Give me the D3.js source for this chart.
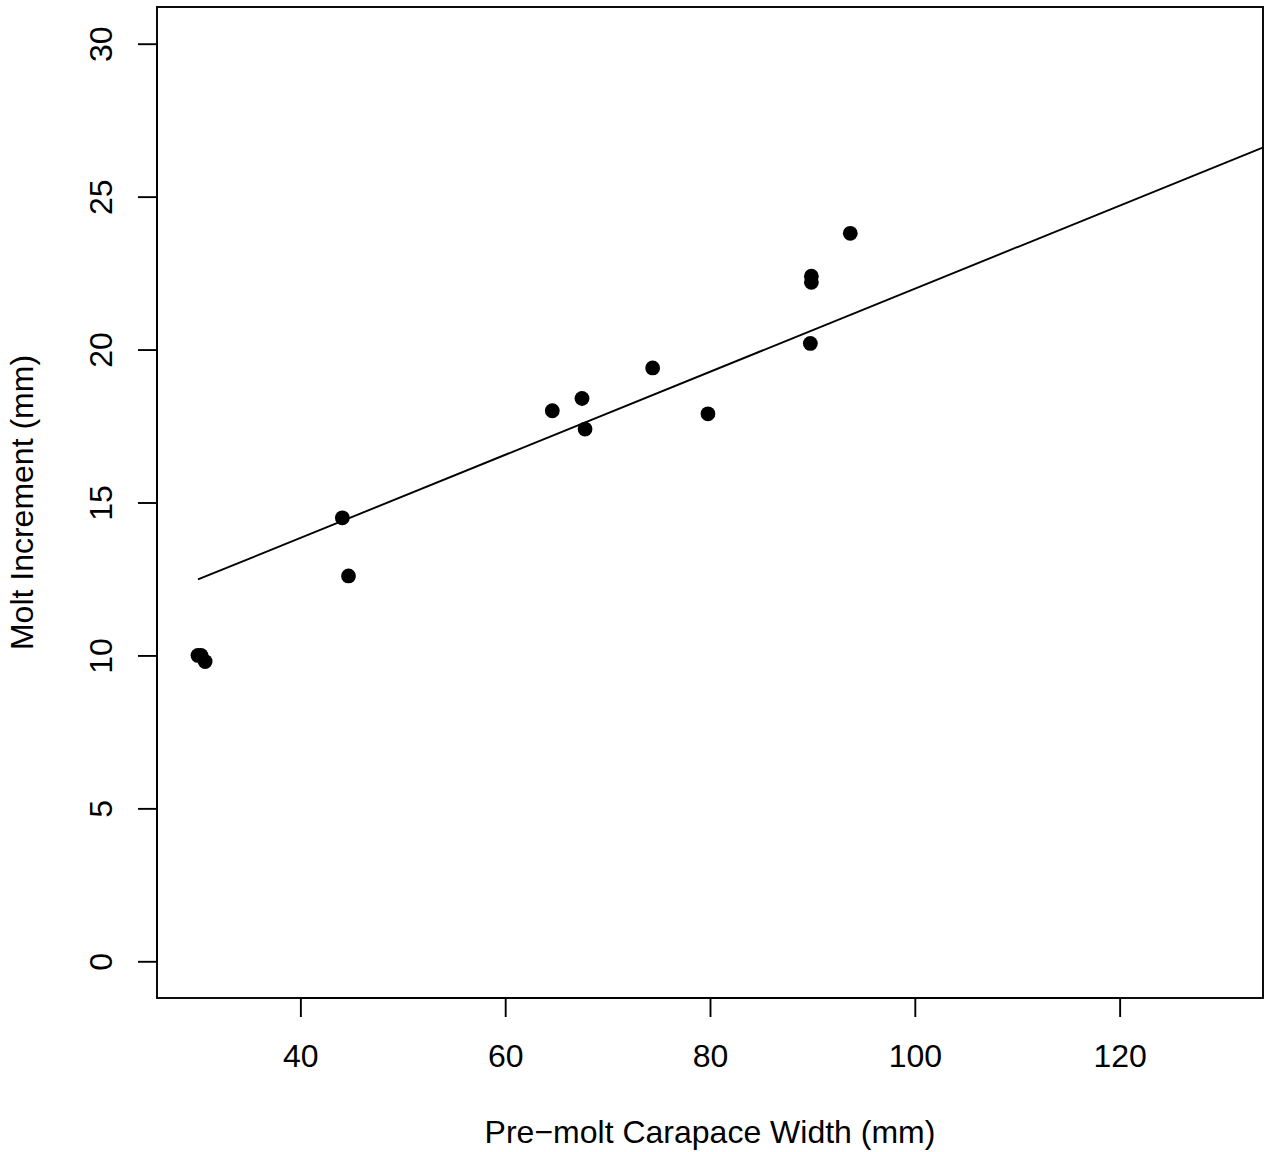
<!DOCTYPE html>
<html>
<head>
<meta charset="utf-8">
<script src="https://cdn.jsdelivr.net/npm/d3@7"></script>
<style>
  html, body { margin: 0; padding: 0; background: #fff; }
  svg { display: block; }
  text { font-family: "Liberation Sans", Arial, Helvetica, sans-serif; fill: #000; }
</style>
</head>
<body>
<script>
// ---- data ----
const premoltWidth = [30.0, 30.3, 30.7, 44.1, 44.7, 64.6, 67.5, 67.8, 74.4, 79.8, 89.9, 89.9, 89.8, 93.7];
const moltIncrement = [10.0, 10.0, 9.8, 14.5, 12.6, 18.0, 18.4, 17.4, 19.4, 17.9, 22.4, 22.2, 20.2, 23.8];
const fitIntercept = 8.41;
const fitSlope = 0.1358;
const fitFromX = [30, 140];
const xTicks = [40, 60, 80, 100, 120];
const yTicks = [0, 5, 10, 15, 20, 25, 30];
const xLimits = [30, 130];
const yLimits = [0, 30];
const xTitle = "Pre\u2212molt Carapace Width (mm)";
const yTitle = "Molt Increment (mm)";

// ---- layout ----
const W = 1272, H = 1152;
const plot = { left: 157, right: 1263, top: 7, bottom: 998 };
const fontSize = 32;
const tickLen = 19;
const lw = 1.9;

const svg = d3.select("body").append("svg").attr("width", W).attr("height", H);

// R-style 4% range extension
const xr = xLimits[1] - xLimits[0], yr = yLimits[1] - yLimits[0];
const x = d3.scaleLinear().domain([xLimits[0] - 0.04 * xr, xLimits[1] + 0.04 * xr]).range([plot.left, plot.right]);
const y = d3.scaleLinear().domain([yLimits[0] - 0.04 * yr, yLimits[1] + 0.04 * yr]).range([plot.bottom, plot.top]);

svg.append("defs").append("clipPath").attr("id", "clip")
  .append("rect").attr("x", plot.left).attr("y", plot.top)
  .attr("width", plot.right - plot.left).attr("height", plot.bottom - plot.top);

// fitted line
const lineData = fitFromX.map(v => [v, fitIntercept + fitSlope * v]);
svg.append("path")
  .attr("clip-path", "url(#clip)")
  .attr("d", d3.line().x(d => x(d[0])).y(d => y(d[1]))(lineData))
  .attr("fill", "none").attr("stroke", "#000").attr("stroke-width", lw);

// points
svg.append("g").selectAll("circle")
  .data(premoltWidth.map((v, i) => [v, moltIncrement[i]]))
  .join("circle")
  .attr("cx", d => x(d[0])).attr("cy", d => y(d[1]))
  .attr("r", 7.4).attr("fill", "#000");

// x axis
const xAxis = d3.axisBottom(x).tickValues(xTicks).tickSize(tickLen).tickPadding(0).tickFormat(d3.format("d"));
const gx = svg.append("g").attr("transform", `translate(0,${plot.bottom})`).call(xAxis);
gx.select(".domain").attr("d", `M${x(xTicks[0])},0H${x(xTicks[xTicks.length-1])}`).attr("stroke-width", lw);
gx.selectAll(".tick line").attr("stroke-width", lw);
gx.selectAll(".tick text").attr("y", 69).attr("dy", null).attr("font-size", fontSize)
  .style("font-family", '"Liberation Sans", Arial, sans-serif');

// y axis
const yAxis = d3.axisLeft(y).tickValues(yTicks).tickSize(tickLen).tickPadding(0).tickFormat(d3.format("d"));
const gy = svg.append("g").attr("transform", `translate(${plot.left},0)`).call(yAxis);
gy.select(".domain").attr("d", `M0,${y(yTicks[0])}V${y(yTicks[yTicks.length-1])}`).attr("stroke-width", lw);
gy.selectAll(".tick line").attr("stroke-width", lw);
gy.selectAll(".tick text")
  .attr("x", null).attr("dy", null)
  .attr("text-anchor", "middle")
  .attr("transform", `translate(${111.5 - plot.left},0) rotate(-90)`)
  .attr("font-size", fontSize)
  .style("font-family", '"Liberation Sans", Arial, sans-serif');

// box
svg.append("rect")
  .attr("x", plot.left).attr("y", plot.top)
  .attr("width", plot.right - plot.left).attr("height", plot.bottom - plot.top)
  .attr("fill", "none").attr("stroke", "#000").attr("stroke-width", lw);

// titles
svg.append("text")
  .attr("x", (plot.left + plot.right) / 2).attr("y", 1142.5)
  .attr("text-anchor", "middle").attr("font-size", fontSize)
  .text(xTitle);
svg.append("text")
  .attr("transform", `translate(33.3,${(plot.top + plot.bottom) / 2}) rotate(-90)`)
  .attr("text-anchor", "middle").attr("font-size", fontSize)
  .text(yTitle);
</script>
</body>
</html>
